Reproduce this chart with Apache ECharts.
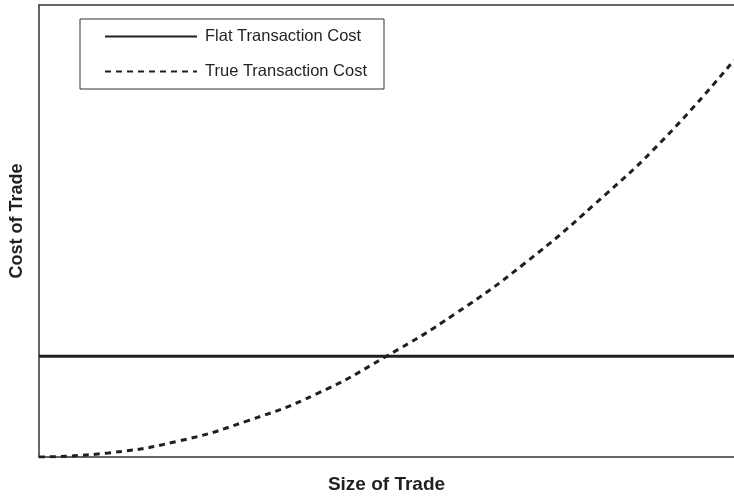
<!DOCTYPE html>
<html>
<head>
<meta charset="utf-8">
<script src="https://cdn.jsdelivr.net/npm/echarts@6/dist/echarts.min.js"></script>
<style>
  html, body { margin: 0; padding: 0; background: #fff; }
  #main { width: 734px; height: 496px; }
</style>
</head>
<body>
<div id="main"></div>
<script>
  // values (arbitrary units, 0-100 on both axes)
  var sizeOfTrade = [0, 10, 20, 30, 40, 50, 60, 70, 80, 90, 100];
  var trueCost = [0, 0.9, 3.5, 8, 14, 22.3, 31.8, 43, 56, 70.5, 87.8];
  var flatCost = 22.3;

  var ink = '#231f20';
  var font = 'Liberation Sans, Arial, Helvetica, sans-serif';

  var myChart = echarts.init(document.getElementById('main'));

  var option = {
    animation: false,
    textStyle: { fontFamily: font, color: ink },
    grid: { left: 39, top: 5, right: 0, bottom: 39, outerBoundsMode: 'none', containLabel: false },
    legend: {
      orient: 'vertical',
      left: 80,
      top: 19,
      padding: [9, 17, 9, 24],
      itemWidth: 92,
      itemHeight: 17,
      itemGap: 18,
      borderColor: '#333',
      borderWidth: 1,
      itemStyle: { opacity: 0 },
      textStyle: { fontSize: 16.5, color: ink, fontFamily: font, lineHeight: 17, padding: [0, 0, 0, 3] },
      data: ['Flat Transaction Cost', 'True Transaction Cost']
    },
    xAxis: [
      {
        type: 'value',
        min: 0,
        max: 100,
        name: 'Size of Trade',
        nameLocation: 'middle',
        nameGap: 18,
        nameTextStyle: { fontSize: 19, fontWeight: 'bold', color: ink, fontFamily: font },
        axisLine: { show: true, lineStyle: { color: '#333', width: 1.5 } },
        axisTick: { show: false },
        axisLabel: { show: false },
        splitLine: { show: false }
      },
      {
        // top frame line only
        type: 'value',
        position: 'top',
        min: 0,
        max: 100,
        axisLine: { show: true, lineStyle: { color: '#333', width: 1.5 } },
        axisTick: { show: false },
        axisLabel: { show: false },
        splitLine: { show: false }
      }
    ],
    yAxis: {
      type: 'value',
      min: 0,
      max: 100,
      name: 'Cost of Trade',
      nameLocation: 'middle',
      nameGap: 13,
      nameTextStyle: { fontSize: 18, fontWeight: 'bold', color: ink, fontFamily: font, padding: [0, 0, 0, 20] },
      axisLine: { show: true, lineStyle: { color: '#333', width: 1.5 } },
      axisTick: { show: false },
      axisLabel: { show: false },
      splitLine: { show: false }
    },
    series: [
      {
        type: 'line',
        name: 'Flat Transaction Cost',
        symbol: 'none',
        lineStyle: { color: ink, width: 3 },
        itemStyle: { color: ink },
        data: [[sizeOfTrade[0], flatCost], [sizeOfTrade[sizeOfTrade.length - 1], flatCost]]
      },
      {
        type: 'line',
        name: 'True Transaction Cost',
        symbol: 'none',
        smooth: true,
        lineStyle: { color: ink, width: 3, type: [6, 5] },
        itemStyle: { color: ink },
        data: sizeOfTrade.map(function (x, i) { return [x, trueCost[i]]; })
      }
    ]
  };
  myChart.setOption(option);
</script>
</body>
</html>
